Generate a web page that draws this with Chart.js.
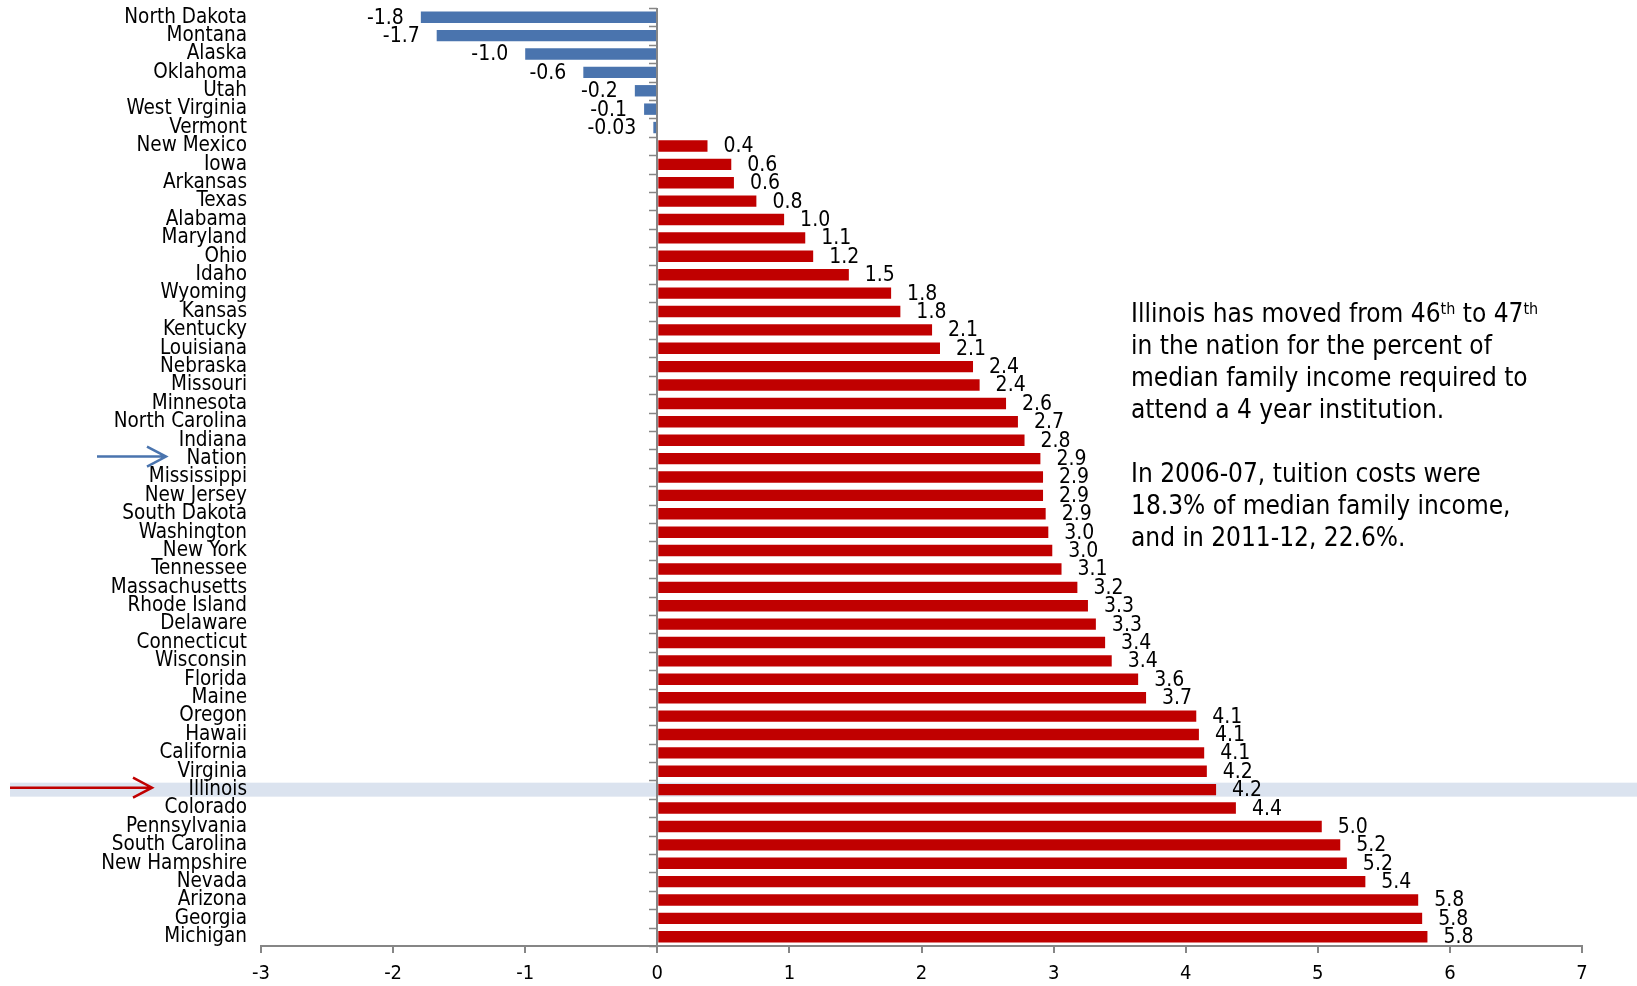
<!DOCTYPE html>
<html>
<head>
<meta charset="utf-8">
<script src="https://cdn.jsdelivr.net/npm/chart.js@4.4.1/dist/chart.umd.min.js"></script>
<style>
  body { margin: 0; background: #fff; }
  #wrap { position: relative; width: 1637px; height: 986px; }
  #note {
    position: absolute; left: 1131px; top: 297px;
    font-family: 'DejaVu Sans Condensed', 'DejaVu Sans', sans-serif;
    font-size: 26px; line-height: 32px; color: #000; white-space: nowrap;
  }
  #note sup { font-size: 16px; vertical-align: top; position: relative; top: -4px; }
</style>
</head>
<body>
<div id="wrap">
  <canvas id="chart" width="1637" height="986"></canvas>
  <div id="note">Illinois has moved from 46<sup>th</sup> to 47<sup>th</sup><br>in the nation for the percent of<br>median family income required to<br>attend a 4 year institution.<br><br>In 2006-07, tuition costs were<br>18.3% of median family income,<br>and in 2011-12, 22.6%.</div>
</div>
<script>
// states, top to bottom
const states = ['North Dakota', 'Montana', 'Alaska', 'Oklahoma', 'Utah', 'West Virginia', 'Vermont',
  'New Mexico', 'Iowa', 'Arkansas', 'Texas', 'Alabama', 'Maryland', 'Ohio', 'Idaho', 'Wyoming',
  'Kansas', 'Kentucky', 'Louisiana', 'Nebraska', 'Missouri', 'Minnesota', 'North Carolina', 'Indiana',
  'Nation', 'Mississippi', 'New Jersey', 'South Dakota', 'Washington', 'New York', 'Tennessee',
  'Massachusetts', 'Rhode Island', 'Delaware', 'Connecticut', 'Wisconsin', 'Florida', 'Maine',
  'Oregon', 'Hawaii', 'California', 'Virginia', 'Illinois', 'Colorado', 'Pennsylvania',
  'South Carolina', 'New Hampshire', 'Nevada', 'Arizona', 'Georgia', 'Michigan'];

// change in percent of median family income
const changes = [-1.79, -1.67, -1.00, -0.56, -0.17, -0.10, -0.03,
  0.38, 0.56, 0.58, 0.75, 0.96, 1.12, 1.18, 1.45, 1.77,
  1.84, 2.08, 2.14, 2.39, 2.44, 2.64, 2.73, 2.78,
  2.90, 2.92, 2.92, 2.94, 2.96, 2.99, 3.06,
  3.18, 3.26, 3.32, 3.39, 3.44, 3.64, 3.70,
  4.08, 4.10, 4.14, 4.16, 4.23, 4.38, 5.03,
  5.17, 5.22, 5.36, 5.76, 5.79, 5.83];

// printed labels
const valueLabels = ['-1.8', '-1.7', '-1.0', '-0.6', '-0.2', '-0.1', '-0.03',
  '0.4', '0.6', '0.6', '0.8', '1.0', '1.1', '1.2', '1.5', '1.8',
  '1.8', '2.1', '2.1', '2.4', '2.4', '2.6', '2.7', '2.8',
  '2.9', '2.9', '2.9', '2.9', '3.0', '3.0', '3.1',
  '3.2', '3.3', '3.3', '3.4', '3.4', '3.6', '3.7',
  '4.1', '4.1', '4.1', '4.2', '4.2', '4.4', '5.0',
  '5.2', '5.2', '5.4', '5.8', '5.8', '5.8'];

const xTicks = [-3, -2, -1, 0, 1, 2, 3, 4, 5, 6, 7];

const BLUE = '#4a74ae';
const RED = '#c00000';
const AXIS = '#868686';
const FONT = "'DejaVu Sans Condensed', 'DejaVu Sans', sans-serif";

// light band behind the Illinois row
const highlight = {
  id: 'highlight',
  beforeDraw(chart) {
    const ctx = chart.ctx;
    const y = chart.scales.y.getPixelForValue(states.indexOf('Illinois'));
    ctx.save();
    ctx.fillStyle = '#dbe3ef';
    ctx.fillRect(10, y - 7, chart.width - 10, 14);
    ctx.restore();
  }
};

// vertical axis at zero with category tick marks, arrows and value labels
const extras = {
  id: 'extras',
  afterDatasetsDraw(chart) {
    const ctx = chart.ctx;
    const xs = chart.scales.x, ys = chart.scales.y;
    const area = chart.chartArea;
    const x0 = Math.round(xs.getPixelForValue(0));
    const step = (area.bottom - area.top) / states.length;

    ctx.save();
    ctx.strokeStyle = AXIS;
    ctx.lineWidth = 2;
    ctx.beginPath();
    ctx.moveTo(x0, area.top);
    ctx.lineTo(x0, area.bottom);
    ctx.stroke();
    ctx.lineWidth = 1.5;
    for (let i = 0; i <= states.length; i++) {
      const yy = Math.round(area.top + i * step) + 0.5;
      ctx.beginPath();
      ctx.moveTo(x0 - 8, yy);
      ctx.lineTo(x0, yy);
      ctx.stroke();
    }

    // arrows
    function arrow(x1, x2, y, color) {
      ctx.strokeStyle = color;
      ctx.lineWidth = 2.5;
      ctx.beginPath();
      ctx.moveTo(x1, y);
      ctx.lineTo(x2, y);
      ctx.moveTo(x2 - 19, y - 10);
      ctx.lineTo(x2, y);
      ctx.lineTo(x2 - 19, y + 10);
      ctx.stroke();
    }
    arrow(97, 166, ys.getPixelForValue(states.indexOf('Nation')) - 2, BLUE);
    arrow(10, 152, ys.getPixelForValue(states.indexOf('Illinois')) - 2, RED);

    // value labels
    ctx.fillStyle = '#000';
    ctx.font = '21px ' + FONT;
    ctx.textBaseline = 'middle';
    chart.getDatasetMeta(0).data.forEach((bar, i) => {
      if (changes[i] >= 0) {
        ctx.textAlign = 'left';
        ctx.fillText(valueLabels[i], bar.x + 16, bar.y + 1);
      } else {
        ctx.textAlign = 'right';
        ctx.fillText(valueLabels[i], bar.x - 17, bar.y + 1);
      }
    });
    ctx.restore();
  }
};

new Chart(document.getElementById('chart'), {
  type: 'bar',
  data: {
    labels: states,
    datasets: [{
      data: changes,
      backgroundColor: changes.map(v => v < 0 ? BLUE : RED),
      borderWidth: 0,
      barPercentage: 0.62,
      categoryPercentage: 1
    }]
  },
  options: {
    indexAxis: 'y',
    responsive: false,
    animation: false,
    layout: { padding: { top: 8, right: 55, left: 0, bottom: 0 } },
    plugins: { legend: { display: false }, tooltip: { enabled: false } },
    scales: {
      x: {
        min: xTicks[0],
        max: xTicks[xTicks.length - 1],
        afterBuildTicks: s => { s.ticks = xTicks.map(v => ({ value: v })); },
        afterFit: s => { s.height = 40; },
        ticks: { color: '#000', font: { family: FONT, size: 20 }, padding: 9 },
        grid: { drawOnChartArea: false, drawTicks: true, tickLength: 7, color: AXIS, lineWidth: 2 },
        border: { color: AXIS, width: 2 }
      },
      y: {
        afterFit: s => { s.width = 261; s.paddingTop = 0; s.paddingBottom = 0; },
        ticks: { color: '#000', font: { family: FONT, size: 20.5 }, padding: 14, autoSkip: false },
        grid: { display: false, drawTicks: false },
        border: { display: false }
      }
    }
  },
  plugins: [highlight, extras]
});
</script>
</body>
</html>
